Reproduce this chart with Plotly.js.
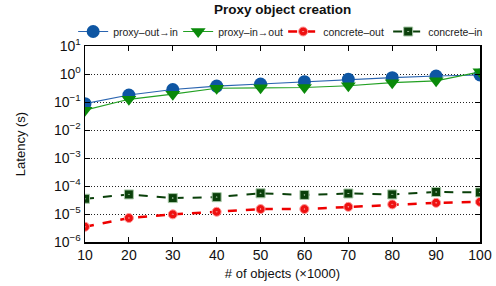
<!DOCTYPE html>
<html><head><meta charset="utf-8">
<script src="https://cdn.plot.ly/plotly-3.0.1.min.js"></script>
<style>html,body{margin:0;padding:0;background:#fff}#c{width:496px;height:286px}</style>
</head><body><div id="c"></div>
<script>
const objects = [10, 20, 30, 40, 50, 60, 70, 80, 90, 100];
const proxyOutIn = [0.087, 0.178, 0.28, 0.37, 0.44, 0.53, 0.65, 0.74, 0.85, 0.92];
const proxyInOut = [0.051, 0.125, 0.19, 0.31, 0.32, 0.33, 0.38, 0.49, 0.57, 1.2];
const concreteOut = [3.5e-6, 7.2e-6, 9.7e-6, 1.2e-5, 1.5e-5, 1.5e-5, 1.8e-5, 2.2e-5, 2.5e-5, 2.7e-5];
const concreteIn = [3.5e-5, 5.0e-5, 3.7e-5, 4.0e-5, 5.5e-5, 4.8e-5, 5.4e-5, 5.0e-5, 6.1e-5, 5.9e-5];
const yTickVals = [1e-6, 1e-5, 1e-4, 1e-3, 1e-2, 1e-1, 1, 10];
const yTickText = ['10<sup>\u22126</sup>', '10<sup>\u22125</sup>', '10<sup>\u22124</sup>', '10<sup>\u22123</sup>',
                   '10<sup>\u22122</sup>', '10<sup>\u22121</sup>', '10<sup>0</sup>', '10<sup>1</sup>'];

const font = "Liberation Sans, Arial, sans-serif";
const traces = [
  {x: objects, y: proxyOutIn, name: 'proxy\u2013out\u2192in', mode: 'lines+markers',
   line: {color: '#2a64b0', width: 1.2}, marker: {symbol: 'circle', size: 13, color: '#0e56a3'}},
  {x: objects, y: proxyInOut, name: 'proxy\u2013in\u2192out', mode: 'lines+markers',
   line: {color: '#22a022', width: 1.2}, marker: {symbol: 'triangle-down', size: 13, color: '#0a8a0a'}},
  {x: objects, y: concreteOut, name: 'concrete\u2013out', mode: 'lines+markers',
   line: {color: '#ee0000', width: 2.5, dash: 'dash'}, marker: {symbol: 'circle-dot', size: 9, color: '#ee1111', line: {color: '#ff9999', width: 1}}},
  {x: objects, y: concreteIn, name: 'concrete\u2013in', mode: 'lines+markers',
   line: {color: '#0a400a', width: 2, dash: 'dash'}, marker: {symbol: 'square-dot', size: 9, color: '#0a400a', line: {color: '#a8c8a8', width: 1}}}
];
const layout = {
  width: 496, height: 286,
  margin: {l: 85, r: 16, t: 46, b: 44},
  paper_bgcolor: '#fff', plot_bgcolor: '#fff',
  font: {family: font, size: 12, color: '#111'},
  title: {text: '<b>Proxy object creation</b>', x: 0.57, xanchor: 'center', y: 0.985, yanchor: 'top', font: {size: 13.5, family: font, color: '#111'}},
  showlegend: true,
  legend: {orientation: 'h', x: -0.03, xanchor: 'left', y: 1, yanchor: 'bottom', font: {size: 10.5, family: font, color: '#222'},
           bgcolor: 'rgba(0,0,0,0)', itemwidth: 30, tracegroupgap: 0, entrywidth: 60, entrywidthmode: 'pixels'},
  xaxis: {range: [10, 100], tickvals: objects, ticks: 'inside', ticklen: 5, tickcolor: '#000',
          showline: true, linecolor: '#000', linewidth: 1.5, mirror: 'ticks', showgrid: false, zeroline: false,
          tickfont: {size: 14, family: font, color: '#111'},
          title: {text: '# of objects (\u00d71000)', font: {size: 13, family: font, color: '#111'}, standoff: 6}},
  yaxis: {type: 'log', range: [-6, 1], tickvals: yTickVals, ticktext: yTickText, ticks: 'inside', ticklen: 5, tickcolor: '#000',
          showline: true, linecolor: '#000', linewidth: 1.5, mirror: 'ticks', showgrid: true, gridcolor: '#222', griddash: '1px,2px', gridwidth: 1,
          zeroline: false, tickfont: {size: 14, family: font, color: '#111'},
          title: {text: 'Latency (s)', font: {size: 13, family: font, color: '#111'}, standoff: 25}}
};
Plotly.newPlot('c', traces, layout, {displayModeBar: false, staticPlot: true});
</script></body></html>
